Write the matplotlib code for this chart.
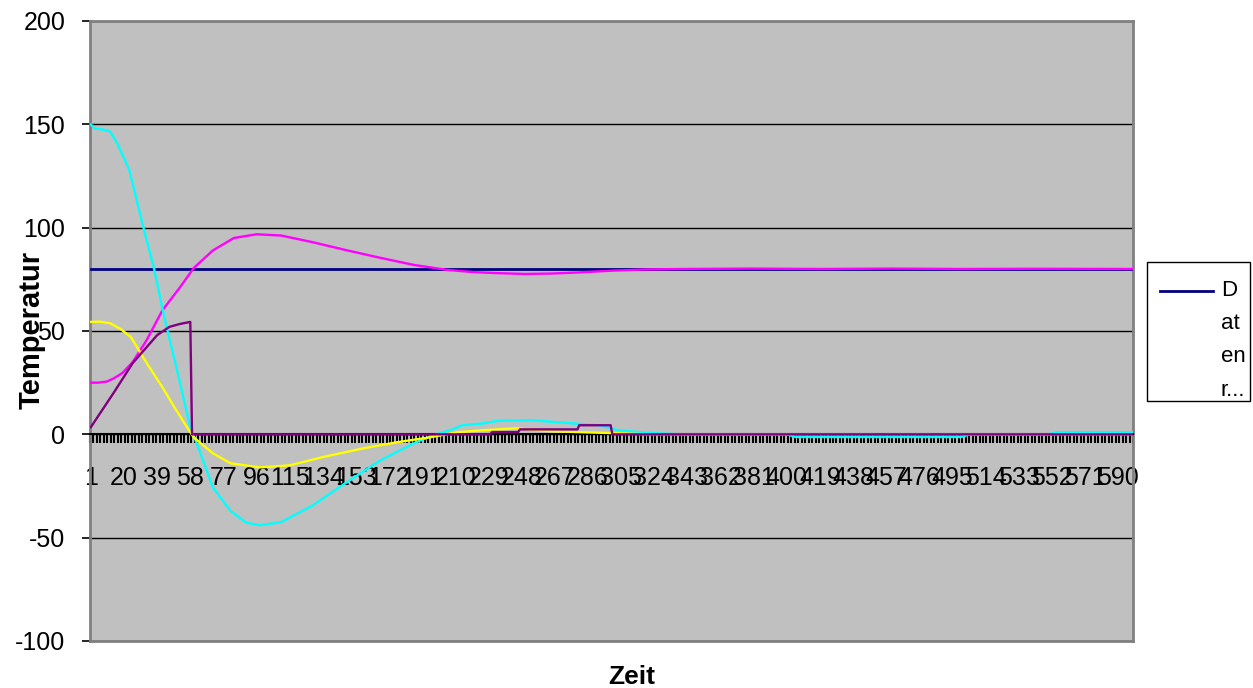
import numpy as np
import matplotlib
matplotlib.use("Agg")
import matplotlib.pyplot as plt
from matplotlib.lines import Line2D
from matplotlib.patches import Rectangle

plt.rcParams['font.family'] = ['Liberation Sans', 'DejaVu Sans']
plt.rcParams['axes.unicode_minus'] = False

# category count on the x axis (Zeit)
n_points = 598

# Sollwert
soll_x = [1, 598]
soll_y = [80, 80]

# Istwert (magenta)
ist_x = [1, 5, 10, 14, 19, 25, 33, 42, 52, 60, 71, 83, 96, 110, 128, 148, 167,
         186, 205, 220, 234, 250, 265, 280, 300, 320, 340, 380, 420, 460, 500,
         540, 598]
ist_y = [25, 25, 25.5, 27, 29.6, 35, 45.6, 60, 71, 80.5, 89, 95, 96.8, 96.2, 93,
         89, 85.4, 82, 79.6, 78.5, 78, 77.6, 77.8, 78.3, 79.2, 79.8, 80, 80.2, 80,
         80.2, 80, 80.1, 80]

# Regelabweichung (cyan)
abw_x = [1, 3, 8, 12, 16, 23, 31, 37, 43, 50, 58, 60, 71, 81, 90, 98, 110, 128,
         148, 167, 186, 197, 207, 214, 226, 234, 254, 277, 293, 303, 322, 340,
         400, 405, 500, 505, 550, 555, 598]
abw_y = [150, 148, 147.5, 146.5, 141, 128, 100.5, 81, 57, 32.5, 3.4, -0.5, -25.7,
         -37, -42.7, -44, -42.5, -34.5, -23, -12.6, -4.4, -0.5, 2, 4.4, 5.3, 6.5,
         6.8, 5.3, 4.4, 2, 0.6, 0, 0, -1.3, -1.3, 0, 0, 1, 1]

# P-Anteil (yellow)
p_x = [1, 6, 12, 18, 24, 33, 42, 50, 58, 60, 71, 81, 98, 115, 134, 157, 176, 195,
       205, 211, 226, 245, 264, 283, 303, 320, 598]
p_y = [54.4, 54.5, 53.8, 51, 47, 34.5, 22.8, 11.6, 1, -1.5, -9.2, -14, -16, -15,
       -11, -6.8, -3.9, -1.5, 0, 1, 2, 2.9, 1.5, 1, 0.5, 0, 0]

# I-Anteil (purple)
i_x = [1, 14, 25, 39, 46, 52, 58, 59, 230, 231, 246, 247, 280, 281, 299, 300, 598]
i_y = [3.5, 20, 34.5, 48, 52, 53.4, 54.4, 0, 0, 1.1, 1.1, 2.4, 2.4, 4.4, 4.4, 0, 0]

y_ticks = [-100, -50, 0, 50, 100, 150, 200]
x_labels = list(range(1, n_points + 1, 19))
legend_lines = ["D", "at", "en", "r..."]

W, H = 1253, 688
fig = plt.figure(figsize=(W / 100, H / 100), dpi=100)
ax = fig.add_axes([90 / W, 1 - 641 / H, (1133 - 90) / W, (641 - 21) / H])
ax.set_facecolor('#C0C0C0')

ax.plot(soll_x, soll_y, color='#000080', lw=2.0, zorder=3)
ax.plot(ist_x, ist_y, color='#FF00FF', lw=1.7, zorder=3)
ax.plot(abw_x, abw_y, color='#00FFFF', lw=1.7, zorder=3)
ax.plot(p_x, p_y, color='#FFFF00', lw=1.7, zorder=3)
ax.plot(i_x, i_y, color='#800080', lw=1.7, zorder=3)

ax.set_xlim(0.5, n_points + 0.5)
ax.set_ylim(-100, 200)

# grid
ax.set_yticks(y_ticks)
ax.yaxis.grid(True, color='black', lw=1)
ax.set_axisbelow(True)

# category axis sits at y = 0
for s in ['left', 'top', 'right']:
    ax.spines[s].set_color('#808080')
    ax.spines[s].set_linewidth(2)
ax.spines['bottom'].set_position(('data', 0))
ax.spines['bottom'].set_color('black')
ax.spines['bottom'].set_linewidth(1.5)
ax.spines['bottom'].set_zorder(2.6)
ax.plot([0, 1], [0, 0], transform=ax.transAxes, color='#808080', lw=2,
        clip_on=False, zorder=4)

ax.set_xticks(x_labels)
ax.set_xticklabels([str(v) for v in x_labels])
ax.set_xticks(np.arange(0.5, n_points + 1, 2), minor=True)
ax.tick_params(axis='x', which='major', length=0, pad=23, labelsize=18)
ax.tick_params(axis='x', which='minor', length=6.5, width=1.5, direction='out',
               color='black')
ax.tick_params(axis='y', length=5.8, width=1.2, pad=12, labelsize=18,
               color='black')

fig.text(32 / W, 1 - 330 / H, "Temperatur", rotation=90, ha='center',
         va='center', fontsize=21, fontweight='bold')
fig.text(632 / W, 1 - 677 / H, "Zeit", ha='center', va='center',
         fontsize=19, fontweight='bold')

# legend box
fig.patches.append(Rectangle((1147 / W, 1 - 401 / H), 103 / W, 139 / H,
                             transform=fig.transFigure, facecolor='white',
                             edgecolor='black', lw=1))
fig.lines.append(Line2D([1160 / W, 1213 / W], [1 - 291 / H, 1 - 291 / H],
                        transform=fig.transFigure, color='#000080', lw=2))
for k, txt in enumerate(legend_lines):
    fig.text(1221 / W, 1 - (291 + 33 * k) / H, txt, ha='left', va='center',
             fontsize=16)

fig.savefig("out.png", dpi=100)
